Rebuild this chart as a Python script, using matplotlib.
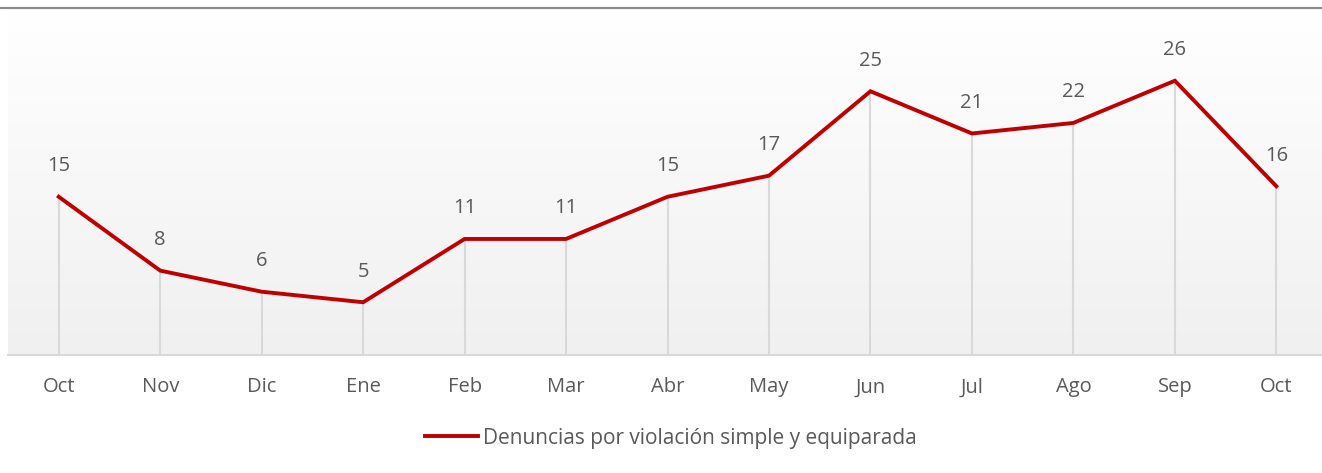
import matplotlib

matplotlib.use("Agg")

import matplotlib.pyplot as plt
import numpy as np
from matplotlib.lines import Line2D

months = ["Oct", "Nov", "Dic", "Ene", "Feb", "Mar", "Abr", "May", "Jun", "Jul", "Ago", "Sep", "Oct"]
denuncias = [15, 8, 6, 5, 11, 11, 15, 17, 25, 21, 22, 26, 16]
series_label = "Denuncias por violación simple y equiparada"

plt.rcParams["font.family"] = ["Open Sans", "DejaVu Sans"]
text_color = "#595959"
line_color = "#c00000"

fig = plt.figure(figsize=(13.22, 4.73), dpi=100)
ax = fig.add_axes([8 / 1322, 118 / 473, 1314 / 1322, 346 / 473])

x = np.arange(len(months))
ax.set_xlim(-0.5, 12.45)
ax.set_ylim(0, 32.8)

# vertical gradient background, white at top to light gray at bottom
grad = np.linspace(1.0, 0.0, 256).reshape(-1, 1)
top_rgb = np.array([1.0, 1.0, 1.0])
bottom_rgb = np.array([0xf0, 0xf0, 0xf0]) / 255
img = top_rgb * grad[..., None] + bottom_rgb * (1 - grad[..., None])
ax.imshow(img, extent=[-0.5, 12.45, 0, 32.8], aspect="auto", origin="upper", zorder=0)

ax.vlines(x, 0, denuncias, colors="#d9d9d9", linewidth=1.5, zorder=1)
line, = ax.plot(x, denuncias, color=line_color, linewidth=2.8, solid_joinstyle="miter", zorder=3)

for xi, v in zip(x, denuncias):
    ax.annotate(str(v), (xi, v), xytext=(0, 22), textcoords="offset points",
                ha="center", va="center", fontsize=14.5, color=text_color)

for side in ["top", "right", "left"]:
    ax.spines[side].set_visible(False)
ax.spines["bottom"].set_color("#d9d9d9")
ax.spines["bottom"].set_linewidth(1.5)
ax.set_yticks([])
ax.set_xticks(x)
ax.set_xticklabels(months, fontsize=14.5, color=text_color)
ax.tick_params(axis="x", length=0, pad=16)

fig.add_artist(Line2D([0, 1], [1 - 8.5 / 473] * 2, color="#8c8c8c", linewidth=1.6, transform=fig.transFigure))

fig.legend([line], [series_label], loc="center", bbox_to_anchor=(671 / 1322, 1 - 438 / 473),
           frameon=False, fontsize=15, handlelength=2.5, handletextpad=0.25, labelcolor=text_color)

fig.savefig("out.png", dpi=100)
plt.close(fig)
